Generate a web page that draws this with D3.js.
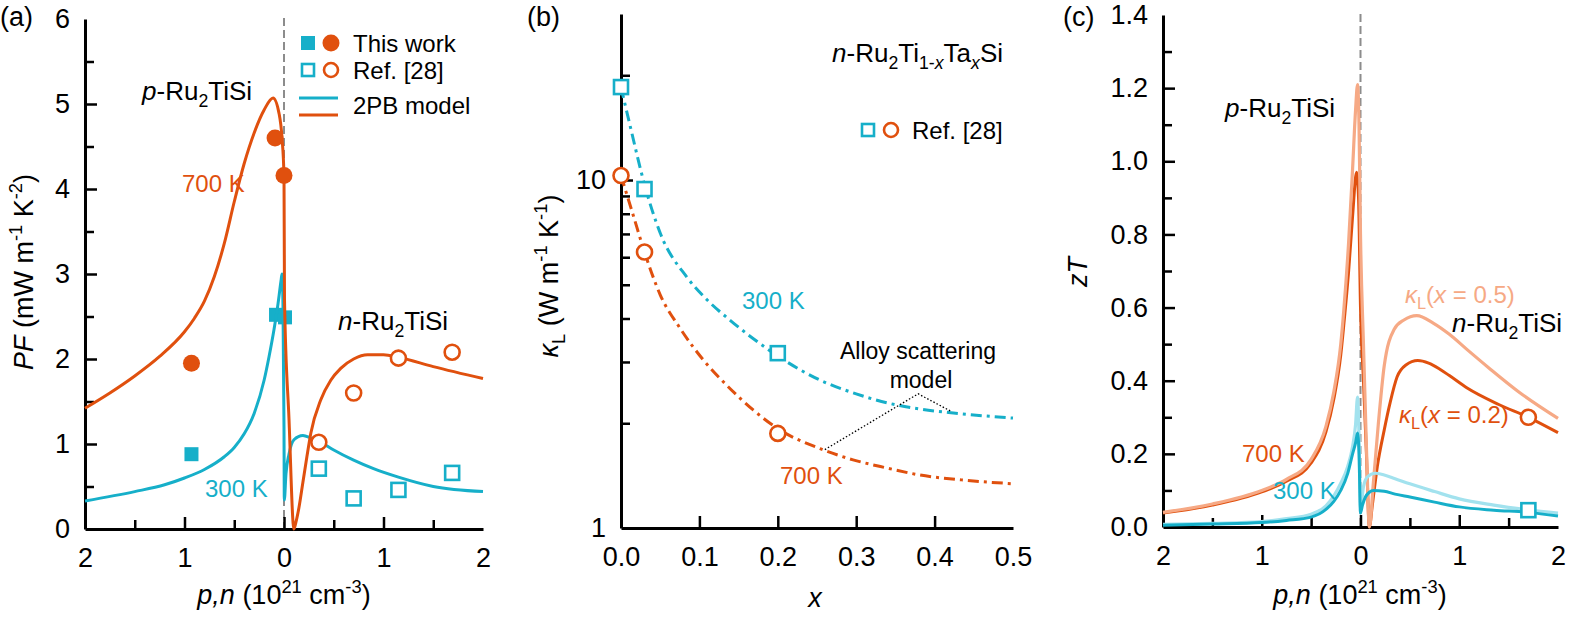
<!DOCTYPE html>
<html>
<head>
<meta charset="UTF-8">
<title>PF, kappa_L, zT</title>
<style>
  body { margin: 0; background: #fff; }
  svg { display: block; font-family: "Liberation Sans", Arial, sans-serif; }
  text { white-space: pre; }
  .axis .domain { stroke: #000; stroke-width: 3; }
  .axis line { stroke: #000; stroke-width: 2.5; }
  .axis text { font-size: 27px; fill: #000; font-family: "Liberation Sans", Arial, sans-serif; }
</style>
<script src="https://d3js.org/d3.v7.min.js"></script>
</head>
<body>
<svg id="fig" width="1577" height="619"></svg>
<script>
// ---- data (x < 0 means p-type side, x > 0 n-type side) ----
// (a) power factor, mW m^-1 K^-2
const pfModel700 = [[-2,1.42],[-1.75,1.6],[-1.5,1.8],[-1.25,2.03],[-1,2.32],[-0.9,2.48],[-0.8,2.68],[-0.7,2.97],[-0.6,3.36],[-0.5,3.85],[-0.4,4.3],[-0.3,4.66],[-0.2,4.93],[-0.11,5.07],[-0.05,4.89],[-0.02,4.6],[0,4.15],[0.005,2.7],[0.05,1.3],[0.1,0.0],[0.12,0.08],[0.15,0.25],[0.19,0.55],[0.23,0.85],[0.27,1.13],[0.37,1.52],[0.47,1.75],[0.57,1.89],[0.7,2.0],[0.84,2.05],[1.0,2.05],[1.15,2.02],[1.5,1.91],[2,1.77]];
const pfModel300 = [[-2,0.33],[-1.5,0.44],[-1.2,0.52],[-1,0.6],[-0.8,0.7],[-0.6,0.85],[-0.5,0.96],[-0.4,1.12],[-0.3,1.36],[-0.2,1.75],[-0.15,2.03],[-0.1,2.35],[-0.06,2.65],[-0.03,2.92],[-0.02,3.0],[-0.01,2.6],[0,1.2],[0.003,0.34],[0.02,0.65],[0.05,0.88],[0.1,1.05],[0.19,1.1],[0.27,1.07],[0.37,1.02],[0.5,0.93],[0.7,0.81],[0.9,0.71],[1.15,0.61],[1.5,0.5],[2,0.44]];
const pfWork700 = [[-0.09,4.6],[0.0,4.16],[-0.93,1.95]];
const pfWork300 = [[-0.93,0.88],[-0.08,2.52],[0.01,2.49]];
const pfRef700 = [[0.35,1.02],[0.7,1.6],[1.15,2.01],[1.69,2.08]];
const pfRef300 = [[0.35,0.71],[0.7,0.36],[1.15,0.46],[1.69,0.66]];

// (b) lattice thermal conductivity vs Ta content x
const kModel300 = [[0,18.5],[0.012,14.2],[0.03,9.7],[0.05,7.04],[0.084,5.26],[0.11,4.52],[0.14,3.94],[0.168,3.51],[0.2,3.12],[0.254,2.66],[0.3,2.43],[0.339,2.29],[0.38,2.2],[0.424,2.14],[0.5,2.07]];
const kModel700 = [[0,10.3],[0.015,8.0],[0.03,6.21],[0.05,4.68],[0.075,3.76],[0.105,3.04],[0.135,2.57],[0.169,2.18],[0.2,1.93],[0.254,1.69],[0.296,1.57],[0.34,1.486],[0.381,1.42],[0.44,1.371],[0.5,1.34]];
const kRef300 = [[0,18.5],[0.03,9.42],[0.2,3.18]];
const kRef700 = [[0,10.3],[0.03,6.21],[0.2,1.87]];
const kLeader = [[0.26,1.68],[0.379,2.43],[0.42,2.17]];

// (c) zT
const zt700x02 = [[-2,0.038],[-1.5,0.06],[-1,0.096],[-0.75,0.125],[-0.5,0.175],[-0.35,0.26],[-0.27,0.35],[-0.2,0.47],[-0.17,0.55],[-0.12,0.7],[-0.08,0.85],[-0.04,0.97],[-0.02,0.9],[0,0.6],[0.03,0.4],[0.06,0.2],[0.09,0.0],[0.12,0.06],[0.17,0.165],[0.24,0.265],[0.3,0.34],[0.37,0.41],[0.46,0.443],[0.58,0.455],[0.69,0.448],[0.8,0.432],[0.9,0.414],[1.08,0.38],[1.4,0.335],[1.7,0.3],[2,0.258]];
const zt700x05 = [[-2,0.04],[-1.5,0.063],[-1,0.1],[-0.75,0.13],[-0.5,0.185],[-0.35,0.275],[-0.27,0.37],[-0.2,0.5],[-0.17,0.59],[-0.12,0.78],[-0.08,0.98],[-0.05,1.14],[-0.03,1.21],[-0.015,1.1],[0,0.8],[0.03,0.5],[0.06,0.22],[0.09,0.0],[0.13,0.12],[0.18,0.28],[0.24,0.44],[0.34,0.54],[0.44,0.566],[0.57,0.578],[0.74,0.557],[0.9,0.527],[1.08,0.485],[1.3,0.435],[1.6,0.37],[2,0.297]];
const zt300x02 = [[-2,0.005],[-1.5,0.008],[-1,0.012],[-0.75,0.018],[-0.5,0.027],[-0.35,0.048],[-0.27,0.07],[-0.2,0.1],[-0.13,0.146],[-0.08,0.2],[-0.05,0.23],[-0.03,0.257],[-0.015,0.2],[0,0.038],[0.02,0.06],[0.05,0.082],[0.09,0.095],[0.13,0.1],[0.24,0.098],[0.35,0.09],[0.5,0.082],[0.75,0.068],[1,0.055],[1.35,0.046],[1.7,0.04],[2,0.03]];
const zt300x05 = [[-2,0.007],[-1.5,0.01],[-1,0.015],[-0.75,0.023],[-0.5,0.035],[-0.35,0.058],[-0.27,0.085],[-0.2,0.12],[-0.13,0.165],[-0.08,0.22],[-0.05,0.28],[-0.03,0.355],[-0.015,0.25],[0,0.05],[0.03,0.11],[0.07,0.137],[0.15,0.147],[0.24,0.142],[0.35,0.132],[0.5,0.118],[0.75,0.097],[1,0.077],[1.35,0.06],[1.7,0.047],[2,0.038]];
const ztRef700 = [[1.7,0.3]];
const ztRef300 = [[1.7,0.046]];

// ticks
const pnTicks = [-2,-1,0,1,2];
const pnMinor = [-1.5,-0.5,0.5,1.5];
const pfTicks = [0,1,2,3,4,5,6];
const pfMinor = [0.5,1.5,2.5,3.5,4.5,5.5];
const kTicks = [1,10];
const kMinor = [2,3,4,5,6,7,8,9,20];
const xTaTicks = [0,0.1,0.2,0.3,0.4,0.5];
const ztTicks = [0,0.2,0.4,0.6,0.8,1.0,1.2,1.4];
const ztMinor = [0.1,0.3,0.5,0.7,0.9,1.1,1.3];

const ORANGE = "#e0500e", CYAN = "#16afc9", LORANGE = "#f6a985", LCYAN = "#a2e2ee";

const svg = d3.select("#fig");

function rich(g, x, y, parts, size, color, anchor) {
    const t = g.append("text").attr("x", x).attr("y", y)
        .attr("font-size", size).attr("fill", color || "#000")
        .attr("text-anchor", anchor || "start");
    let shift = 0;
    parts.forEach(p => {
        const s = t.append("tspan").text(p[0]);
        const f = p[1] || "";
        if (f.includes("i")) s.attr("font-style", "italic");
        let target = 0;
        if (f.includes("sub")) { s.attr("font-size", size * 0.68); target = size * 0.25; }
        if (f.includes("sup")) { s.attr("font-size", size * 0.68); target = -size * 0.42; }
        if (target !== shift) { s.attr("dy", target - shift); shift = target; }
    });
    return t;
}

function axes(x, y, o) {
    const bottom = y.range()[0];
    const left = x.range()[0];
    const xd = x.domain(), yd = y.domain();

    const xa = svg.append("g").attr("class", "axis").attr("transform", `translate(0,${bottom})`)
        .call(d3.axisBottom(x).tickValues(o.xTicks).tickSize(-12).tickSizeOuter(0)
            .tickPadding(19).tickFormat(o.xFmt));
    xa.selectAll(".tick line").filter(d => d === xd[0] || d === xd[1]).remove();
    if (o.xMinor) {
        svg.append("g").attr("class", "axis").attr("transform", `translate(0,${bottom})`)
            .call(d3.axisBottom(x).tickValues(o.xMinor).tickSize(-9).tickFormat(""))
            .select(".domain").remove();
    }

    const ya = svg.append("g").attr("class", "axis").attr("transform", `translate(${left},0)`)
        .call(d3.axisLeft(y).tickValues(o.yTicks).tickSize(-12).tickSizeOuter(0)
            .tickPadding(15).tickFormat(o.yFmt));
    ya.selectAll(".tick line").filter(d => d === yd[0] || d === yd[1]).remove();
    if (o.yMinor) {
        svg.append("g").attr("class", "axis").attr("transform", `translate(${left},0)`)
            .call(d3.axisLeft(y).tickValues(o.yMinor).tickSize(-9).tickFormat(""))
            .select(".domain").remove();
    }
}

function curve(x, y, data, color, width, dash) {
    const line = d3.line().x(d => x(d[0])).y(d => y(d[1])).curve(d3.curveMonotoneX);
    svg.append("path").datum(data).attr("d", line)
        .attr("fill", "none").attr("stroke", color).attr("stroke-width", width || 3)
        .attr("stroke-linejoin", "round")
        .attr("stroke-dasharray", dash || null);
}

function squares(x, y, data, color, filled, side) {
    side = side || 14;
    svg.append("g").selectAll("rect").data(data).join("rect")
        .attr("x", d => x(d[0]) - side / 2).attr("y", d => y(d[1]) - side / 2)
        .attr("width", side).attr("height", side)
        .attr("fill", filled ? color : "#fff").attr("stroke", filled ? "none" : color)
        .attr("stroke-width", 2.6);
}

function circles(x, y, data, color, filled) {
    svg.append("g").selectAll("circle").data(data).join("circle")
        .attr("cx", d => x(d[0])).attr("cy", d => y(d[1]))
        .attr("r", filled ? 8.5 : 7.5)
        .attr("fill", filled ? color : "#fff").attr("stroke", filled ? "none" : color)
        .attr("stroke-width", 2.6);
}

function zeroLine(x, y) {
    svg.append("line").attr("x1", x(0)).attr("x2", x(0))
        .attr("y1", y.range()[1] - 1).attr("y2", y.range()[0])
        .attr("stroke", "#8c8c8c").attr("stroke-width", 2).attr("stroke-dasharray", "8,4");
}

const absFmt = d => Math.abs(d);
const pnTitle = [["p,n", "i"], [" (10"], ["21", "sup"], [" cm"], ["-3", "sup"], [")"]];

// ---------------- (a) ----------------
const xa = d3.scaleLinear().domain([-2, 2]).range([85, 483]);
const ya = d3.scaleLinear().domain([0, 6]).range([529, 19]);
zeroLine(xa, ya);
axes(xa, ya, { xTicks: pnTicks, xMinor: pnMinor, xFmt: absFmt, yTicks: pfTicks, yMinor: pfMinor, yFmt: d3.format("d") });
squares(xa, ya, pfWork300, CYAN, true);
curve(xa, ya, pfModel300, CYAN, 3);
curve(xa, ya, pfModel700, ORANGE, 3);
circles(xa, ya, pfWork700, ORANGE, true);
squares(xa, ya, pfRef300, CYAN, false);
circles(xa, ya, pfRef700, ORANGE, false);

// legend (a)
svg.append("rect").attr("x", 301).attr("y", 36).attr("width", 14).attr("height", 14).attr("fill", CYAN);
svg.append("circle").attr("cx", 331).attr("cy", 43).attr("r", 8.5).attr("fill", ORANGE);
svg.append("rect").attr("x", 302).attr("y", 64).attr("width", 12).attr("height", 12).attr("fill", "#fff").attr("stroke", CYAN).attr("stroke-width", 2.6);
svg.append("circle").attr("cx", 331).attr("cy", 70).attr("r", 7).attr("fill", "#fff").attr("stroke", ORANGE).attr("stroke-width", 2.6);
svg.append("line").attr("x1", 299).attr("x2", 338).attr("y1", 98).attr("y2", 98).attr("stroke", CYAN).attr("stroke-width", 3);
svg.append("line").attr("x1", 299).attr("x2", 338).attr("y1", 115).attr("y2", 115).attr("stroke", ORANGE).attr("stroke-width", 3);
rich(svg, 353, 52, [["This work"]], 24);
rich(svg, 353, 79, [["Ref. [28]"]], 24);
rich(svg, 353, 114, [["2PB model"]], 24);

rich(svg, 142, 100, [["p", "i"], ["-Ru"], ["2", "sub"], ["TiSi"]], 26);
rich(svg, 338, 330, [["n", "i"], ["-Ru"], ["2", "sub"], ["TiSi"]], 26);
rich(svg, 182, 192, [["700 K"]], 24, ORANGE);
rich(svg, 205, 497, [["300 K"]], 24, CYAN);

rich(svg, 0, 26, [["(a)"]], 27);
rich(svg, 284, 604, pnTitle, 27, "#000", "middle");
rich(svg, 0, 0, [["PF", "i"], [" (mW m"], ["-1", "sup"], [" K"], ["-2", "sup"], [")"]], 27, "#000", "middle")
    .attr("transform", "translate(33,272) rotate(-90)");

// ---------------- (b) ----------------
const xb = d3.scaleLinear().domain([0, 0.5]).range([621, 1013]);
const yb = d3.scaleLog().domain([1, 30]).range([528, 14]);
axes(xb, yb, { xTicks: xTaTicks, xFmt: d3.format(".1f"), yTicks: kTicks, yMinor: kMinor, yFmt: d3.format("d") });
curve(xb, yb, kModel300, CYAN, 3, "11,5,3,5");
curve(xb, yb, kModel700, ORANGE, 3, "11,5,3,5");
squares(xb, yb, kRef300, CYAN, false);
circles(xb, yb, kRef700, ORANGE, false);
svg.append("path").datum(kLeader)
    .attr("d", d3.line().x(d => xb(d[0])).y(d => yb(d[1])))
    .attr("fill", "none").attr("stroke", "#000").attr("stroke-width", 1.3).attr("stroke-dasharray", "1.5,2");

rich(svg, 1003, 62, [["n", "i"], ["-Ru"], ["2", "sub"], ["Ti"], ["1-", "sub"], ["x", "sub i"], ["Ta"], ["x", "sub i"], ["Si"]], 26, "#000", "end");
svg.append("rect").attr("x", 862).attr("y", 124).attr("width", 12).attr("height", 12).attr("fill", "#fff").attr("stroke", CYAN).attr("stroke-width", 2.6);
svg.append("circle").attr("cx", 891).attr("cy", 130).attr("r", 7).attr("fill", "#fff").attr("stroke", ORANGE).attr("stroke-width", 2.6);
rich(svg, 912, 139, [["Ref. [28]"]], 24);
rich(svg, 742, 309, [["300 K"]], 24, CYAN);
rich(svg, 780, 484, [["700 K"]], 24, ORANGE);
rich(svg, 918, 359, [["Alloy scattering"]], 23, "#000", "middle");
rich(svg, 921, 388, [["model"]], 23, "#000", "middle");

rich(svg, 527, 26, [["(b)"]], 27);
rich(svg, 815, 607, [["x", "i"]], 27, "#000", "middle");
rich(svg, 0, 0, [["\u03ba", "i"], ["L", "sub"], [" (W m"], ["-1", "sup"], [" K"], ["-1", "sup"], [")"]], 27, "#000", "middle")
    .attr("transform", "translate(558,276) rotate(-90)");

// ---------------- (c) ----------------
const xc = d3.scaleLinear().domain([-2, 2]).range([1163, 1558]);
const yc = d3.scaleLinear().domain([0, 1.4]).range([527, 15]);
zeroLine(xc, yc);
axes(xc, yc, { xTicks: pnTicks, xMinor: pnMinor, xFmt: absFmt, yTicks: ztTicks, yMinor: ztMinor, yFmt: d3.format(".1f") });
curve(xc, yc, zt700x02, ORANGE, 3);
curve(xc, yc, zt700x05, LORANGE, 3.2);
curve(xc, yc, zt300x05, LCYAN, 3.2);
curve(xc, yc, zt300x02, CYAN, 3);
circles(xc, yc, ztRef700, ORANGE, false);
squares(xc, yc, ztRef300, CYAN, false);

rich(svg, 1225, 117, [["p", "i"], ["-Ru"], ["2", "sub"], ["TiSi"]], 26);
rich(svg, 1452, 332, [["n", "i"], ["-Ru"], ["2", "sub"], ["TiSi"]], 26);
rich(svg, 1405, 303, [["\u03ba", "i"], ["L", "sub"], ["("], ["x", "i"], [" = 0.5)"]], 24, LORANGE);
rich(svg, 1399, 423, [["\u03ba", "i"], ["L", "sub"], ["("], ["x", "i"], [" = 0.2)"]], 24, ORANGE);
rich(svg, 1242, 462, [["700 K"]], 24, ORANGE);
rich(svg, 1273, 499, [["300 K"]], 24, CYAN);

rich(svg, 1063, 26, [["(c)"]], 27);
rich(svg, 1360, 604, pnTitle, 27, "#000", "middle");
rich(svg, 0, 0, [["zT", "i"]], 27, "#000", "middle")
    .attr("transform", "translate(1087,272) rotate(-90)");
</script>
</body>
</html>
